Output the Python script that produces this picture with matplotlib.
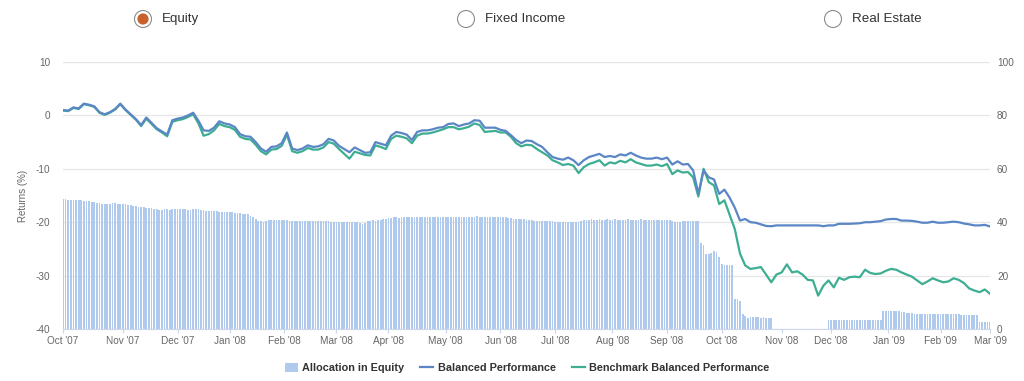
#!/usr/bin/env python3
"""Balanced portfolio returns vs benchmark with equity allocation bars."""

import matplotlib
matplotlib.use('Agg')
import matplotlib.pyplot as plt
from matplotlib.patches import Patch, Circle
from matplotlib.lines import Line2D
import numpy as np

plt.rcParams.update({
    'font.family': ['Liberation Sans', 'DejaVu Sans'],
    'figure.facecolor': 'white',
    'axes.unicode_minus': False,
})

BAR_COLOR = '#b0caed'
BLUE = '#5b86c6'
TEAL = '#3dae92'
TEXT = '#666666'

# x axis: trading days (ordinal), month labels and trading days per month
month_labels = ["Oct '07", "Nov '07", "Dec '07", "Jan '08", "Feb '08", "Mar '08",
                "Apr '08", "May '08", "Jun '08", "Jul '08", "Aug '08", "Sep '08",
                "Oct '08", "Nov '08", "Dec '08", "Jan '09", "Feb '09", "Mar '09"]
month_days = [23, 21, 20, 21, 20, 20, 22, 21, 21, 22, 21, 21, 23, 19, 22, 20, 19]

# Returns (%) read every second trading day
balanced = [
    1.0, 0.9, 1.5, 1.3, 2.2, 2.0, 1.7, 0.6, 0.2, 0.6, 1.2, 2.2, 1.1, 0.2, -0.7, -1.8,
    -0.4, -1.4, -2.4, -3.0, -3.6, -0.9, -0.6, -0.4, 0.0, 0.5, -1.0, -2.8, -2.9, -2.3,
    -1.1, -1.5, -1.7, -2.2, -3.5, -3.9, -4.0, -5.0, -6.2, -6.8, -5.9, -5.8, -5.2, -3.2,
    -6.2, -6.5, -6.2, -5.6, -5.9, -5.8, -5.4, -4.4, -4.7, -5.7, -6.3, -6.9,
    -6.0, -6.5, -7.0, -6.9, -5.0, -5.3, -5.6, -3.8, -3.1, -3.3, -3.6, -4.6, -3.1, -2.8,
    -2.8, -2.6, -2.3, -2.2, -1.6, -1.5, -2.0, -1.7, -1.5, -0.9, -1.0, -2.3, -2.3, -2.3,
    -2.7, -2.9, -3.7, -4.6, -5.2, -4.7, -4.8, -5.4, -5.9, -6.9, -7.8, -8.1, -8.3, -7.9,
    -8.4, -9.3, -8.4, -7.8, -7.5, -7.2, -7.8, -7.6, -7.8, -7.3, -7.5, -7.0, -7.5, -7.9,
    -8.1, -8.1, -7.9, -8.2, -7.9, -9.2, -8.6, -9.2,
    -9.1, -10.3, -14.7, -10.3, -11.6, -12.0, -14.7, -13.9, -15.4, -17.3, -19.7, -19.4,
    -20.0, -20.1, -20.4, -20.7, -20.75, -20.6, -20.6, -20.6, -20.6, -20.6, -20.6, -20.6,
    -20.6, -20.6, -20.75, -20.6, -20.6, -20.3, -20.3, -20.3, -20.25, -20.2, -20.0, -20.0,
    -19.9, -19.8, -19.5, -19.4, -19.4, -19.7, -19.7, -19.75, -19.9, -20.1, -20.1, -19.9,
    -20.1, -20.1, -20.0, -19.9, -20.0, -20.25, -20.4, -20.6, -20.6, -20.5, -20.8,
]
benchmark = [
    0.9, 0.8, 1.4, 1.2, 2.1, 1.9, 1.6, 0.5, 0.1, 0.5, 1.1, 2.1, 1.0, 0.1, -0.8, -2.0,
    -0.6, -1.6, -2.6, -3.2, -3.9, -1.2, -0.9, -0.7, -0.3, 0.2, -1.5, -3.8, -3.5, -2.8,
    -1.6, -2.0, -2.2, -2.7, -4.0, -4.4, -4.5, -5.5, -6.7, -7.3, -6.4, -6.3, -5.7, -3.6,
    -6.7, -7.0, -6.7, -6.1, -6.4, -6.4, -6.0, -5.0, -5.3, -6.3, -7.2, -8.1,
    -6.8, -7.1, -7.4, -7.5, -5.6, -5.9, -6.3, -4.4, -3.8, -4.0, -4.3, -5.2, -3.8, -3.4,
    -3.4, -3.2, -2.9, -2.6, -2.2, -2.2, -2.6, -2.4, -2.1, -1.5, -1.8, -3.1, -3.0, -2.9,
    -3.2, -3.2, -4.0, -5.2, -5.8, -5.5, -5.6, -6.3, -6.9, -7.5, -8.4, -8.8, -9.3, -9.1,
    -9.4, -10.8, -9.7, -9.1, -8.8, -8.4, -9.4, -8.8, -9.0, -8.5, -8.8, -8.2, -8.8, -9.1,
    -9.4, -9.4, -9.2, -9.5, -9.1, -11.0, -10.3, -10.7,
    -10.6, -11.6, -15.2, -10.0, -12.5, -13.1, -16.6, -15.9, -18.6, -21.3, -25.9, -28.1,
    -28.75, -28.6, -28.4, -29.8, -31.25, -29.8, -29.4, -27.9, -29.4, -29.2, -29.8, -30.8,
    -30.9, -33.75, -31.9, -30.9, -32.2, -30.4, -30.8, -30.3, -30.2, -30.3, -28.9, -29.5,
    -29.7, -29.6, -29.1, -28.75, -28.9, -29.4, -29.8, -30.2, -30.9, -31.6, -31.1, -30.5,
    -30.9, -31.25, -31.1, -30.5, -30.8, -31.4, -32.4, -32.8, -33.1, -32.6, -33.4,
]

# Allocation in equity (%), one value per trading day
allocation = [
    # Oct '07
    48.7, 48.6, 48.5, 48.4, 48.3, 48.3, 48.2, 48.2, 48.1, 48.0, 47.8, 47.7, 47.5, 47.3,
    47.1, 47.0, 47.0, 47.0, 47.0, 47.1, 47.1, 47.0, 47.0,
    # Nov '07
    46.9, 46.7, 46.6, 46.5, 46.2, 46.0, 45.8, 45.7, 45.6, 45.5, 45.5, 45.2, 45.0, 44.8,
    44.7, 44.6, 44.9, 44.8, 44.7, 44.8, 44.9,
    # Dec '07
    44.9, 45.0, 44.9, 44.8, 44.7, 44.7, 44.8, 44.9, 44.8, 44.6, 44.4, 44.3, 44.2, 44.1,
    44.2, 44.1, 44.0, 43.9, 43.9, 43.8,
    # Jan '08
    43.8, 43.7, 43.6, 43.5, 43.4, 43.2, 43.1, 42.9, 42.5, 41.8, 41.2, 40.6, 40.3, 40.2,
    40.4, 40.7, 40.8, 40.8, 40.7, 40.8, 40.9,
    # Feb '08
    40.8, 40.7, 40.6, 40.6, 40.4, 40.3, 40.4, 40.5, 40.6, 40.5, 40.4, 40.4, 40.4, 40.4,
    40.5, 40.4, 40.3, 40.3, 40.2, 40.1,
    # Mar '08
    40.0, 40.0, 40.0, 39.9, 40.0, 40.0, 40.1, 40.0, 39.9, 39.6, 39.5, 39.6, 40.3, 40.6,
    40.7, 40.6, 40.9, 41.0, 41.1, 41.2,
    # Apr '08
    41.6, 41.7, 41.8, 41.8, 41.7, 41.8, 41.9, 41.9, 41.8, 41.9, 41.8, 41.8, 41.9, 42.0,
    41.9, 41.8, 41.9, 41.9, 42.0, 41.9, 41.9, 41.8,
    # May '08
    41.9, 42.0, 42.0, 41.9, 42.0, 42.0, 42.1, 42.0, 42.0, 41.9, 42.0, 42.1, 42.2, 42.1,
    42.0, 42.0, 42.1, 42.1, 42.0, 42.0, 41.9,
    # Jun '08
    42.1, 41.9, 41.8, 41.7, 41.4, 41.3, 41.2, 41.2, 41.2, 41.1, 41.0, 40.8, 40.7, 40.6,
    40.6, 40.6, 40.5, 40.6, 40.6, 40.5, 40.4,
    # Jul '08
    40.2, 40.1, 40.0, 40.0, 39.9, 40.0, 40.0, 39.9, 40.0, 40.1, 40.4, 40.8, 41.0, 41.0,
    41.1, 41.0, 41.0, 41.1, 41.0, 41.0, 41.1, 41.0,
    # Aug '08
    41.0, 41.1, 41.0, 41.0, 40.9, 41.0, 41.1, 41.0, 41.0, 40.9, 41.0, 41.1, 41.0, 41.0,
    41.0, 40.9, 41.0, 41.0, 40.9, 40.9, 41.0,
    # Sep '08
    40.9, 40.8, 40.6, 40.2, 40.0, 40.2, 40.3, 40.4, 40.5, 40.4, 40.3, 40.4, 40.3, 32.1,
    31.3, 28.2, 28.1, 28.3, 29.1, 28.9, 27.0,
    # Oct '08
    24.2, 24.0, 23.8, 24.0, 24.1, 11.4, 11.2, 10.6, 5.6, 4.7, 4.3, 4.4, 4.4, 4.5,
    4.5, 4.3, 4.4, 4.2, 4.3, 4.2, 0, 0, 0,
    # Nov '08
    0, 0, 0, 0, 0, 0, 0, 0, 0, 0, 0, 0, 0, 0, 0, 0, 0, 0, 3.5,
    # Dec '08
    3.4, 3.5, 3.4, 3.4, 3.3, 3.4, 3.4, 3.5, 3.4, 3.4, 3.4, 3.3, 3.4, 3.4,
    3.4, 3.5, 3.4, 3.4, 3.4, 3.4, 6.9, 6.9,
    # Jan '09
    6.9, 6.8, 6.8, 6.7, 6.6, 6.4, 6.2, 6.0, 5.9, 5.9, 5.8, 5.8, 5.7, 5.8,
    5.8, 5.7, 5.8, 5.8, 5.7, 5.7,
    # Feb '09
    5.7, 5.8, 5.7, 5.7, 5.6, 5.6, 5.5, 5.5, 5.4, 5.4, 5.3, 5.3, 5.2, 5.2,
    5.2, 2.7, 2.7, 2.7, 2.7,
    # Mar '09
    2.7,
]

options = ['Equity', 'Fixed Income', 'Real Estate']
selected = 'Equity'


def main():
    fig = plt.figure(figsize=(10.24, 3.81), dpi=100)
    ax = fig.add_axes([63 / 1024, 1 - 329 / 381, 927 / 1024, 267 / 381])
    ax2 = ax.twinx()

    day_idx = np.arange(len(allocation))
    line_idx = np.arange(len(balanced)) * 2
    ticks = np.concatenate([[0], np.cumsum(month_days)])

    # allocation bars on the right axis, behind the lines
    ax2.bar(day_idx, allocation, width=0.68, color=BAR_COLOR, linewidth=0)
    ax2.set_ylim(0, 100)
    ax2.set_yticks(np.arange(0, 101, 20))
    ax2.set_axisbelow(True)
    ax2.yaxis.grid(True, color='#e6e6e6', linewidth=0.9)

    ax.set_zorder(ax2.get_zorder() + 1)
    ax.patch.set_visible(False)
    ax.plot(line_idx, benchmark, color=TEAL, linewidth=1.6)
    ax.plot(line_idx, balanced, color=BLUE, linewidth=1.6)
    ax.set_ylim(-40, 10)
    ax.set_yticks(np.arange(-40, 11, 10))
    ax.set_xlim(0, ticks[-1])
    ax.set_xticks(ticks)
    ax.set_xticklabels(month_labels)
    ax.set_ylabel('Returns (%)', fontsize=7, color=TEXT)
    ax.yaxis.set_label_coords(-0.038, 0.5)

    for a in (ax, ax2):
        for s in a.spines.values():
            s.set_visible(False)
    ax.spines['bottom'].set_visible(True)
    ax.spines['bottom'].set_color('#ccd6eb')

    ax.tick_params(axis='y', length=0, labelsize=7.2, labelcolor=TEXT, pad=9)
    ax2.tick_params(axis='y', length=0, labelsize=7.2, labelcolor=TEXT, pad=5)
    ax.tick_params(axis='x', length=3, color='#ccd6eb', labelsize=7.2,
                   labelcolor=TEXT, pad=2)

    handles = [Patch(facecolor=BAR_COLOR, label='Allocation in Equity'),
               Line2D([], [], color=BLUE, linewidth=1.6, label='Balanced Performance'),
               Line2D([], [], color=TEAL, linewidth=1.6, label='Benchmark Balanced Performance')]
    leg = fig.legend(handles=handles, loc='center', ncol=3, frameon=False,
                     bbox_to_anchor=(527 / 1024, 1 - 368 / 381),
                     prop={'size': 7.8, 'weight': 'bold'},
                     handlelength=1.2, handleheight=0.9, handletextpad=0.4,
                     columnspacing=1.5)
    for t in leg.get_texts():
        t.set_color('#333333')

    # radio buttons across the top, drawn in pixel coordinates
    top = fig.add_axes([0, 0, 1, 1])
    top.set_xlim(0, 1024)
    top.set_ylim(381, 0)
    top.axis('off')
    top.patch.set_visible(False)
    radio_x = [143, 466, 833]
    for label, cx in zip(options, radio_x):
        top.add_patch(Circle((cx, 19), 8.5, facecolor='white', edgecolor='#8c8c8c',
                             linewidth=0.8))
        if label == selected:
            top.add_patch(Circle((cx, 19), 5.6, facecolor='#c8612c', edgecolor='none'))
        top.text(cx + 19, 19, label, fontsize=9.6, color='#333333', va='center', ha='left')

    fig.savefig('out.png', dpi=100)
    plt.close(fig)


if __name__ == '__main__':
    main()
